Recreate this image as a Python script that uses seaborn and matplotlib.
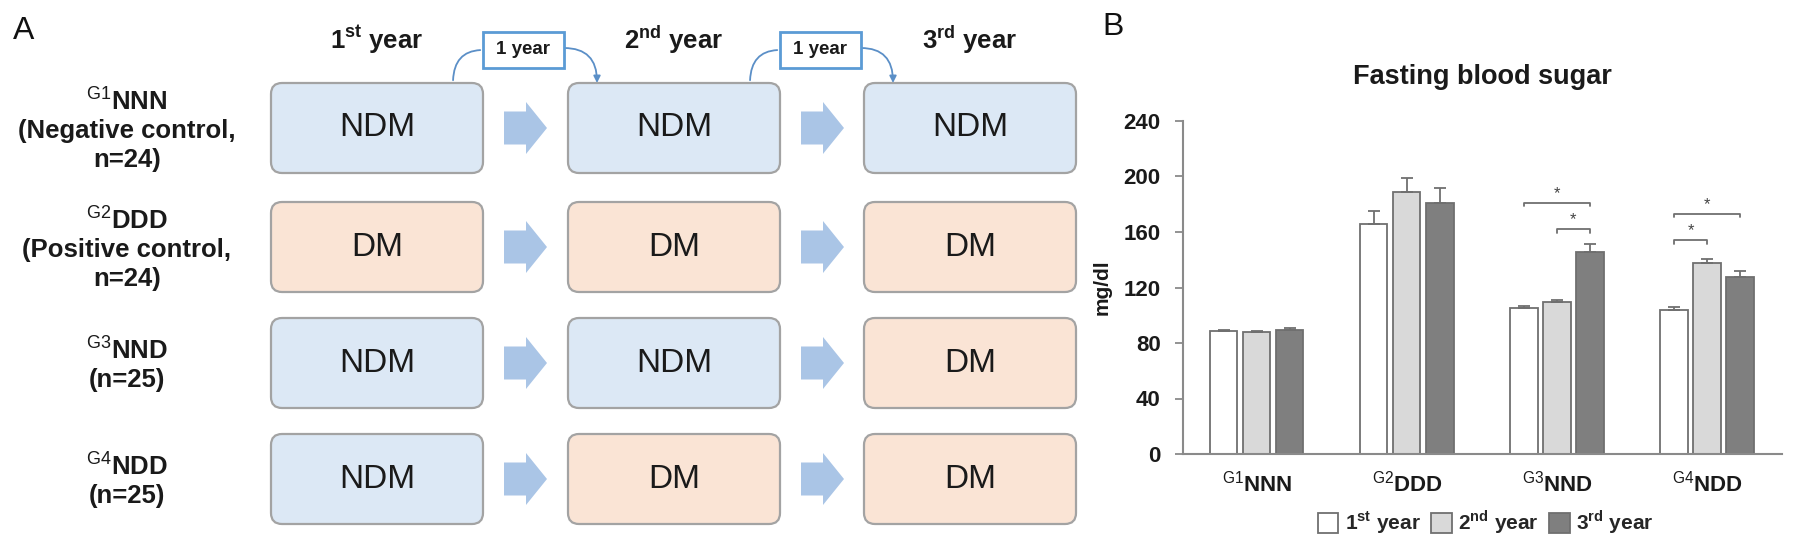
import matplotlib
matplotlib.use('Agg')
import matplotlib.pyplot as plt
from matplotlib.patches import FancyBboxPatch, FancyArrow, FancyArrowPatch, Rectangle, Patch
import numpy as np
import pandas as pd
import seaborn as sns

# --- panel B data (mg/dl) ---
groups = ['G1NNN', 'G2DDD', 'G3NND', 'G4NDD']
group_tick_labels = [r'$^{\mathrm{G1}}$NNN', r'$^{\mathrm{G2}}$DDD',
                     r'$^{\mathrm{G3}}$NND', r'$^{\mathrm{G4}}$NDD']
years = ['1st year', '2nd year', '3rd year']
year_labels = [r'1$^{\mathbf{st}}$ year', r'2$^{\mathbf{nd}}$ year', r'3$^{\mathbf{rd}}$ year']
fbs_1st = [88.3, 166.0, 105.2, 104.0]
fbs_2nd = [87.6, 189.0, 109.3, 137.7]
fbs_3rd = [89.3, 181.0, 145.4, 127.3]
err_1st = [1.4, 9.0, 1.7, 2.2]
err_2nd = [1.4, 10.0, 1.9, 2.9]
err_3rd = [1.3, 10.8, 6.0, 4.8]
# significance brackets: group index, from year, to year, height
sig_group = [2, 2, 3, 3]
sig_from = [0, 1, 0, 0]
sig_to = [2, 2, 2, 1]
sig_height = [181, 162, 173, 154]

# --- panel A content ---
row_labels = ['$^{\\mathrm{G1}}$NNN\n(Negative control,\nn=24)',
              '$^{\\mathrm{G2}}$DDD\n(Positive control,\nn=24)',
              '$^{\\mathrm{G3}}$NND\n(n=25)',
              '$^{\\mathrm{G4}}$NDD\n(n=25)']
row_states = [['NDM', 'NDM', 'NDM'],
              ['DM', 'DM', 'DM'],
              ['NDM', 'NDM', 'DM'],
              ['NDM', 'DM', 'DM']]
col_headers = [r'1$^{\mathbf{st}}$ year', r'2$^{\mathbf{nd}}$ year', r'3$^{\mathbf{rd}}$ year']

sns.set_theme(style='white')
plt.rcParams['font.family'] = ['Liberation Sans', 'DejaVu Sans']
plt.rcParams['mathtext.fontset'] = 'custom'
plt.rcParams['mathtext.rm'] = 'Liberation Sans'
plt.rcParams['mathtext.bf'] = 'Liberation Sans:bold'

fig = plt.figure(figsize=(17.95, 5.46), dpi=100)

# ---------------- panel A (pixel units) ----------------
axa = fig.add_axes([0, 0, 1100 / 1795, 1])
axa.set_xlim(0, 1100)
axa.set_ylim(546, 0)
axa.axis('off')

col_left = [271, 568, 864]
row_top = [83, 202, 318, 434]
box_w, box_h = 212, 90
state_fill = {'NDM': '#dce8f5', 'DM': '#fae4d5'}
arrow_color = '#aac5e6'
link_color = '#5b8fc7'

for r, states in enumerate(row_states):
    yc = row_top[r] + box_h / 2
    axa.text(127, yc + 1, row_labels[r], ha='center', va='center', fontsize=18.5,
             fontweight='bold', linespacing=1.25, color='#1a1a1a')
    for c, st in enumerate(states):
        axa.add_patch(FancyBboxPatch((col_left[c], row_top[r]), box_w, box_h,
                                     boxstyle='round,pad=0,rounding_size=11',
                                     fc=state_fill[st], ec='#a3a3a3', lw=1.6))
        axa.text(col_left[c] + box_w / 2, yc, st, ha='center', va='center',
                 fontsize=24, color='#1a1a1a')
        if c < 2:
            x0 = col_left[c] + box_w + 21
            axa.add_patch(FancyArrow(x0, yc, 43, 0, width=33, head_width=52,
                                     head_length=21, length_includes_head=True,
                                     fc=arrow_color, ec='none'))

for c, hdr in enumerate(col_headers):
    axa.text(col_left[c] + box_w / 2, 40, hdr, ha='center', va='center',
             fontsize=18.5, fontweight='bold', color='#1a1a1a')

for c in range(2):
    bx = col_left[c] + box_w
    lab_x = bx + 40
    axa.add_patch(Rectangle((lab_x - 40, 32), 81, 36, fc='white', ec='#5b9bd5', lw=2, zorder=3))
    axa.text(lab_x, 50, '1 year', ha='center', va='center', fontsize=13.5,
             fontweight='bold', color='#1a1a1a', zorder=4)
    axa.add_patch(FancyArrowPatch((bx - 30, row_top[0]), (lab_x - 40, 50),
                                  connectionstyle='angle3,angleA=90,angleB=0',
                                  arrowstyle='-', color=link_color, lw=1.3))
    axa.add_patch(FancyArrowPatch((lab_x + 41, 48), (col_left[c + 1] + 29, row_top[0]),
                                  connectionstyle='angle3,angleA=0,angleB=90',
                                  arrowstyle='-|>', mutation_scale=10,
                                  color=link_color, lw=1.3, shrinkA=0, shrinkB=0))

fig.text(24 / 1795, 1 - 31 / 546, 'A', fontsize=23, ha='center', va='center', color='#111111')
fig.text(1113 / 1795, 1 - 27 / 546, 'B', fontsize=23, ha='center', va='center', color='#111111')

# ---------------- panel B ----------------
ax = fig.add_axes([1183 / 1795, 92 / 546, 599 / 1795, 333 / 546])
df = pd.DataFrame({
    'group': groups * 3,
    'year': np.repeat(years, len(groups)),
    'fbs': fbs_1st + fbs_2nd + fbs_3rd,
})
bar_colors = ['#ffffff', '#d9d9d9', '#7f7f7f']
sns.barplot(data=df, x='group', y='fbs', hue='year', order=groups, hue_order=years,
            palette=bar_colors, width=0.66, gap=0.18, edgecolor='#6f6f6f',
            linewidth=1.3, errorbar=None, legend=False, saturation=1, ax=ax)

centers = []
for cont, errs in zip(ax.containers, [err_1st, err_2nd, err_3rd]):
    xs = [p.get_x() + p.get_width() / 2 for p in cont]
    ys = [p.get_height() for p in cont]
    centers.append(xs)
    ax.errorbar(xs, ys, yerr=[np.zeros(len(errs)), errs], fmt='none',
                ecolor='#6f6f6f', elinewidth=1.3, capsize=4, capthick=1.3)

for g, a, b, h in zip(sig_group, sig_from, sig_to, sig_height):
    xa, xb = centers[a][g], centers[b][g]
    ax.plot([xa, xa, xb, xb], [h - 2.5, h, h, h - 2.5], color='#6f6f6f', lw=1.3)
    ax.text((xa + xb) / 2, h + 1.5, '*', ha='center', va='bottom', fontsize=12, color='#444444')

ax.set_xlim(-0.493, 3.5)
ax.set_ylim(0, 240)
ax.set_yticks(range(0, 241, 40))
sns.despine(ax=ax)
for sp in ['left', 'bottom']:
    ax.spines[sp].set_color('#8a8a8a')
    ax.spines[sp].set_linewidth(1.5)
ax.tick_params(axis='y', left=True, direction='out', length=6, width=1.3,
               color='#8a8a8a', pad=10, labelsize=16, labelcolor='#1a1a1a')
ax.tick_params(axis='x', bottom=False, length=0, pad=12, labelsize=16, labelcolor='#1a1a1a')
ax.set_xticks(range(len(groups)))
ax.set_xticklabels(group_tick_labels, fontweight='bold')
for lbl in ax.get_yticklabels():
    lbl.set_fontweight('bold')
ax.set_xlabel('')
ax.set_ylabel('mg/dl', fontsize=15, fontweight='bold', labelpad=9, color='#1a1a1a')

fig.text(1482 / 1795, 1 - 77 / 546, 'Fasting blood sugar', ha='center', va='center',
         fontsize=19.5, fontweight='bold', color='#1a1a1a')

handles = [Patch(fc=c, ec='#6f6f6f', lw=1.3) for c in bar_colors]
ax.legend(handles, year_labels, loc='center', bbox_to_anchor=(0.505, -0.205), ncol=3,
          frameon=False, prop={'weight': 'bold', 'size': 15}, handlelength=1.0,
          handleheight=1.1, handletextpad=0.3, columnspacing=0.5)

fig.savefig('out.png', dpi=100)
